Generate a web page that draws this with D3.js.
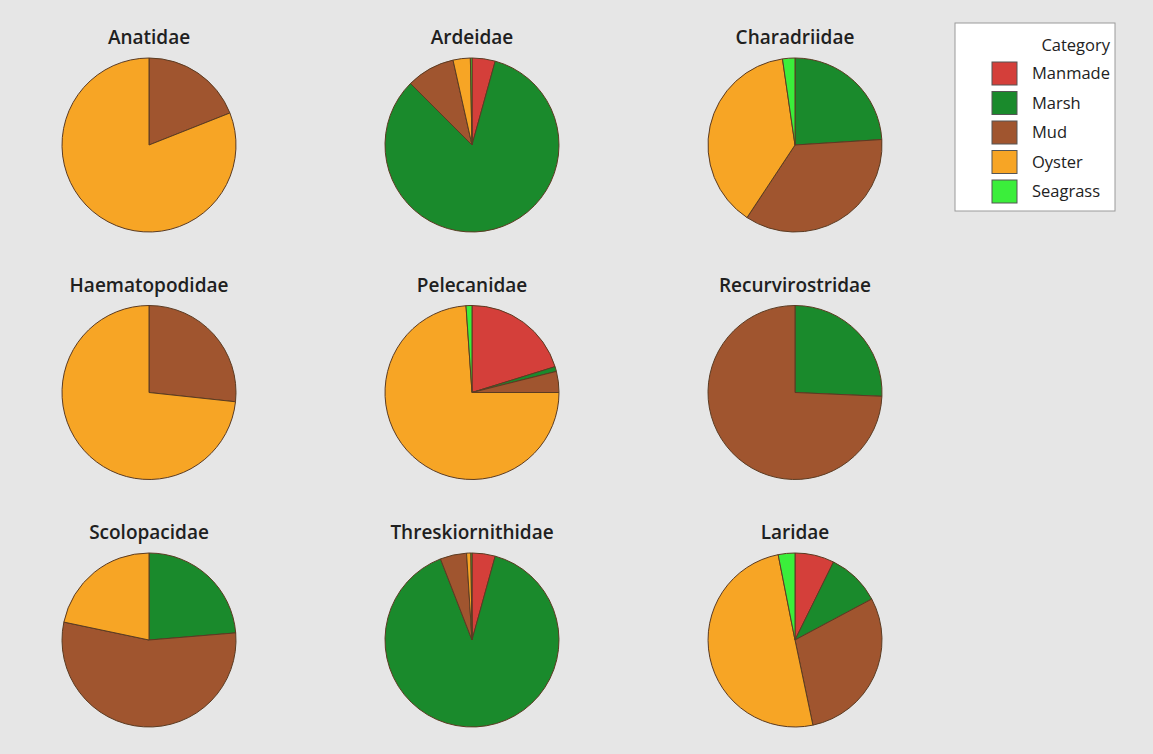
<!DOCTYPE html>
<meta charset="utf-8">
<title>Pie charts by family</title>
<style>
body { margin: 0; background: #e6e6e6; }
text { font-family: "Open Sans", "Noto Sans", sans-serif; fill: #1a1a1a; }
.slice { stroke: #5b3b22; stroke-width: 1px; }
.title { font-size: 19px; font-weight: 600; fill: #202020; }
.legend text { font-size: 16.5px; fill: #222; }
</style>
<body>
<svg width="1153" height="754" id="svg"></svg>
<script src="https://d3js.org/d3.v7.min.js"></script>
<script>

// categories, in the legend / slice order
var categories = ["Manmade", "Marsh", "Mud", "Oyster", "Seagrass"];
var colors = ["#d43f3a", "#1a8a2c", "#a0552f", "#f7a525", "#3bee3b"];

var families = ["Anatidae", "Ardeidae", "Charadriidae",
                "Haematopodidae", "Pelecanidae", "Recurvirostridae",
                "Scolopacidae", "Threskiornithidae", "Laridae"];

// percent of each category (Manmade, Marsh, Mud, Oyster, Seagrass)
var anatidae          = [0,    0,    19,   81,   0];
var ardeidae          = [4.3,  83.2, 9,    3.2,  0.3];
var charadriidae      = [0,    24,   35.3, 38.4, 2.3];
var haematopodidae    = [0,    0,    26.7, 73.3, 0];
var pelecanidae       = [20.2, 0.9,  3.9,  73.9, 1.1];
var recurvirostridae  = [0,    25.7, 74.3, 0,    0];
var scolopacidae      = [0,    23.7, 54.6, 21.7, 0];
var threskiornithidae = [4.3,  89.8, 4.9,  0.8,  0.2];
var laridae           = [7.3,  9.9,  29.5, 50.2, 3.1];

var values = [anatidae, ardeidae, charadriidae, haematopodidae, pelecanidae,
              recurvirostridae, scolopacidae, threskiornithidae, laridae];

var svg = d3.select("svg");
var radius = 87;

var colX = d3.scalePoint().domain([0, 1, 2]).range([149, 795]);
var rowY = d3.scalePoint().domain([0, 1, 2]).range([145, 640]);
var color = d3.scaleOrdinal().domain(categories).range(colors);

var pie = d3.pie().sort(null).value(function(d) { return d.v; });
var arc = d3.arc().innerRadius(0).outerRadius(radius);

families.forEach(function(name, i) {
  var cx = colX(i % 3), cy = rowY(Math.floor(i / 3));
  var g = svg.append("g").attr("transform", "translate(" + cx + "," + cy + ")");

  var data = categories.map(function(c, j) { return {c: c, v: values[i][j]}; })
      .filter(function(d) { return d.v > 0; });

  g.selectAll("path")
    .data(pie(data))
    .enter().append("path")
      .attr("class", "slice")
      .attr("d", arc)
      .attr("fill", function(d) { return color(d.data.c); });

  g.append("text")
      .attr("class", "title")
      .attr("x", 0)
      .attr("y", -radius - 14)
      .attr("text-anchor", "middle")
      .text(name);
});

// legend
var legend = svg.append("g").attr("class", "legend").attr("transform", "translate(955,23)");
legend.append("rect")
    .attr("width", 160).attr("height", 188)
    .attr("fill", "#fff").attr("stroke", "#9a9a9a");
legend.append("text")
    .attr("x", 155).attr("y", 28)
    .attr("text-anchor", "end")
    .text("Category");

var item = legend.selectAll(".item")
    .data(categories)
    .enter().append("g")
      .attr("class", "item")
      .attr("transform", function(d, i) { return "translate(37," + (39 + i * 29.5) + ")"; });

item.append("rect")
    .attr("width", 25).attr("height", 23)
    .attr("fill", function(d) { return color(d); })
    .attr("stroke", "#555");

item.append("text")
    .attr("x", 40).attr("y", 17)
    .text(function(d) { return d; });

</script>
</body>
